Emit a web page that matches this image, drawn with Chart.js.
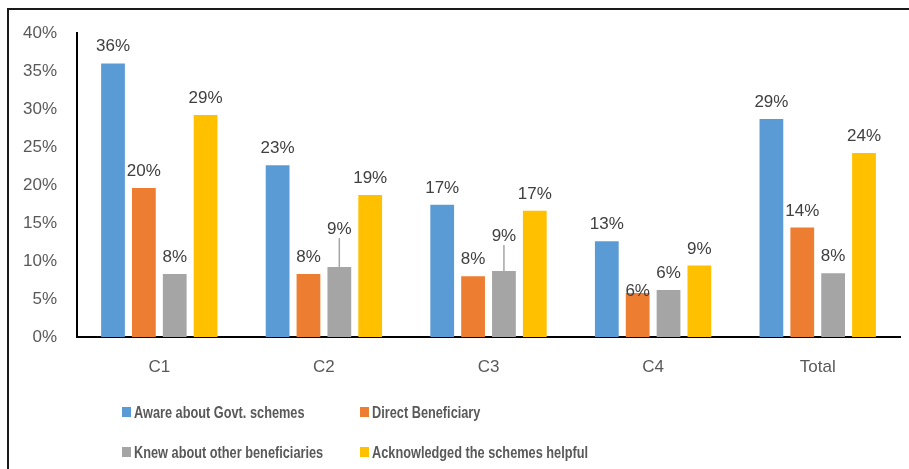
<!DOCTYPE html>
<html>
<head>
<meta charset="utf-8">
<title>Scheme awareness</title>
<script src="https://cdn.jsdelivr.net/npm/chart.js@4.4.1/dist/chart.umd.min.js"></script>
<style>
  html, body { margin: 0; padding: 0; background: #fff; }
  #wrap { width: 909px; height: 469px; position: relative; }
</style>
</head>
<body>
<div id="wrap"><canvas id="schemeChart"></canvas></div>
<script>
// categories and series (percent of respondents)
const categories = ['C1', 'C2', 'C3', 'C4', 'Total'];
const awareGovtSchemes = [36.0, 22.6, 17.4, 12.6, 28.7];
const directBeneficiary = [19.6, 8.3, 8.0, 5.8, 14.4];
const knewOtherBeneficiaries = [8.3, 9.2, 8.7, 6.2, 8.4];
const acknowledgedHelpful = [29.2, 18.7, 16.6, 9.4, 24.2];
const seriesNames = [
    'Aware about Govt. schemes',
    'Direct Beneficiary',
    'Knew about other beneficiaries',
    'Acknowledged the schemes helpful'
];
const yTickStep = 5;
const yMax = 40;

const colors = ['#5B9BD5', '#ED7D31', '#A5A5A5', '#FFC000'];
const textColor = '#595959';
const labelColor = '#404040';
const baseFont = '"Liberation Sans", Arial, sans-serif';

// a few labels are nudged, some with a short leader line back to the bar
const labelShifts = {
    '2:1': { dy: -21, leader: true },
    '2:2': { dy: -18, leader: true },
    '1:3': { dy: 15 }
};

const valueLabels = {
    id: 'valueLabels',
    afterDatasetsDraw(chart) {
        const ctx = chart.ctx;
        ctx.save();
        ctx.font = '17px ' + baseFont;
        ctx.fillStyle = labelColor;
        ctx.textAlign = 'center';
        ctx.textBaseline = 'alphabetic';
        chart.data.datasets.forEach((ds, di) => {
            chart.getDatasetMeta(di).data.forEach((bar, i) => {
                const shift = labelShifts[di + ':' + i] || { dy: 0 };
                const y = bar.y - 12 + shift.dy;
                ctx.fillText(Math.round(ds.data[i]) + '%', bar.x, y);
                if (shift.leader) {
                    ctx.strokeStyle = '#A5A5A5';
                    ctx.lineWidth = 1.5;
                    ctx.beginPath();
                    ctx.moveTo(bar.x, y + 4);
                    ctx.lineTo(bar.x, bar.y);
                    ctx.stroke();
                }
            });
        });
        ctx.restore();
    }
};

// two-by-two legend under the plot, text squeezed to a condensed width
const gridLegend = {
    id: 'gridLegend',
    afterDraw(chart) {
        const ctx = chart.ctx;
        const cols = [122, 360];
        const rows = [412, 452];
        ctx.save();
        ctx.font = 'bold 17px ' + baseFont;
        ctx.textBaseline = 'middle';
        ctx.textAlign = 'left';
        chart.data.datasets.forEach((ds, i) => {
            const x = cols[i % 2];
            const y = rows[Math.floor(i / 2)];
            ctx.fillStyle = ds.backgroundColor;
            ctx.fillRect(x, y - 5, 9, 10);
            ctx.fillStyle = textColor;
            const w = ctx.measureText(ds.label).width * 0.75;
            ctx.fillText(ds.label, x + 12, y + 1, w);
        });
        ctx.restore();
    }
};

const frame = {
    id: 'frame',
    beforeDraw(chart) {
        const ctx = chart.ctx;
        ctx.save();
        ctx.strokeStyle = '#1a1a1a';
        ctx.lineWidth = 2;
        ctx.beginPath();
        ctx.moveTo(8, chart.height);
        ctx.lineTo(8, 9);
        ctx.lineTo(chart.width, 9);
        ctx.stroke();
        ctx.restore();
    }
};

const seriesData = [awareGovtSchemes, directBeneficiary, knewOtherBeneficiaries, acknowledgedHelpful];

new Chart(document.getElementById('schemeChart'), {
    type: 'bar',
    data: {
        labels: categories,
        datasets: seriesData.map((d, i) => ({
            label: seriesNames[i],
            data: d,
            backgroundColor: colors[i],
            borderWidth: 0,
            categoryPercentage: 0.75,
            barPercentage: 0.77
        }))
    },
    options: {
        responsive: true,
        maintainAspectRatio: false,
        animation: false,
        layout: { padding: { left: 0, right: 9, top: 33, bottom: 82 } },
        plugins: {
            legend: { display: false },
            tooltip: { enabled: false }
        },
        scales: {
            x: {
                grid: { display: false },
                border: { display: true, color: '#000', width: 2 },
                ticks: {
                    color: textColor,
                    padding: 12,
                    font: { family: baseFont, size: 17 }
                },
                afterFit(scale) { scale.height = 50; }
            },
            y: {
                min: 0,
                max: yMax,
                grid: { display: false },
                border: { display: true, color: '#000', width: 2 },
                ticks: {
                    stepSize: yTickStep,
                    color: textColor,
                    padding: 12,
                    font: { family: baseFont, size: 17 },
                    callback: v => v + '%'
                },
                afterFit(scale) { scale.width = 77; }
            }
        }
    },
    plugins: [frame, valueLabels, gridLegend]
});
</script>
</body>
</html>
